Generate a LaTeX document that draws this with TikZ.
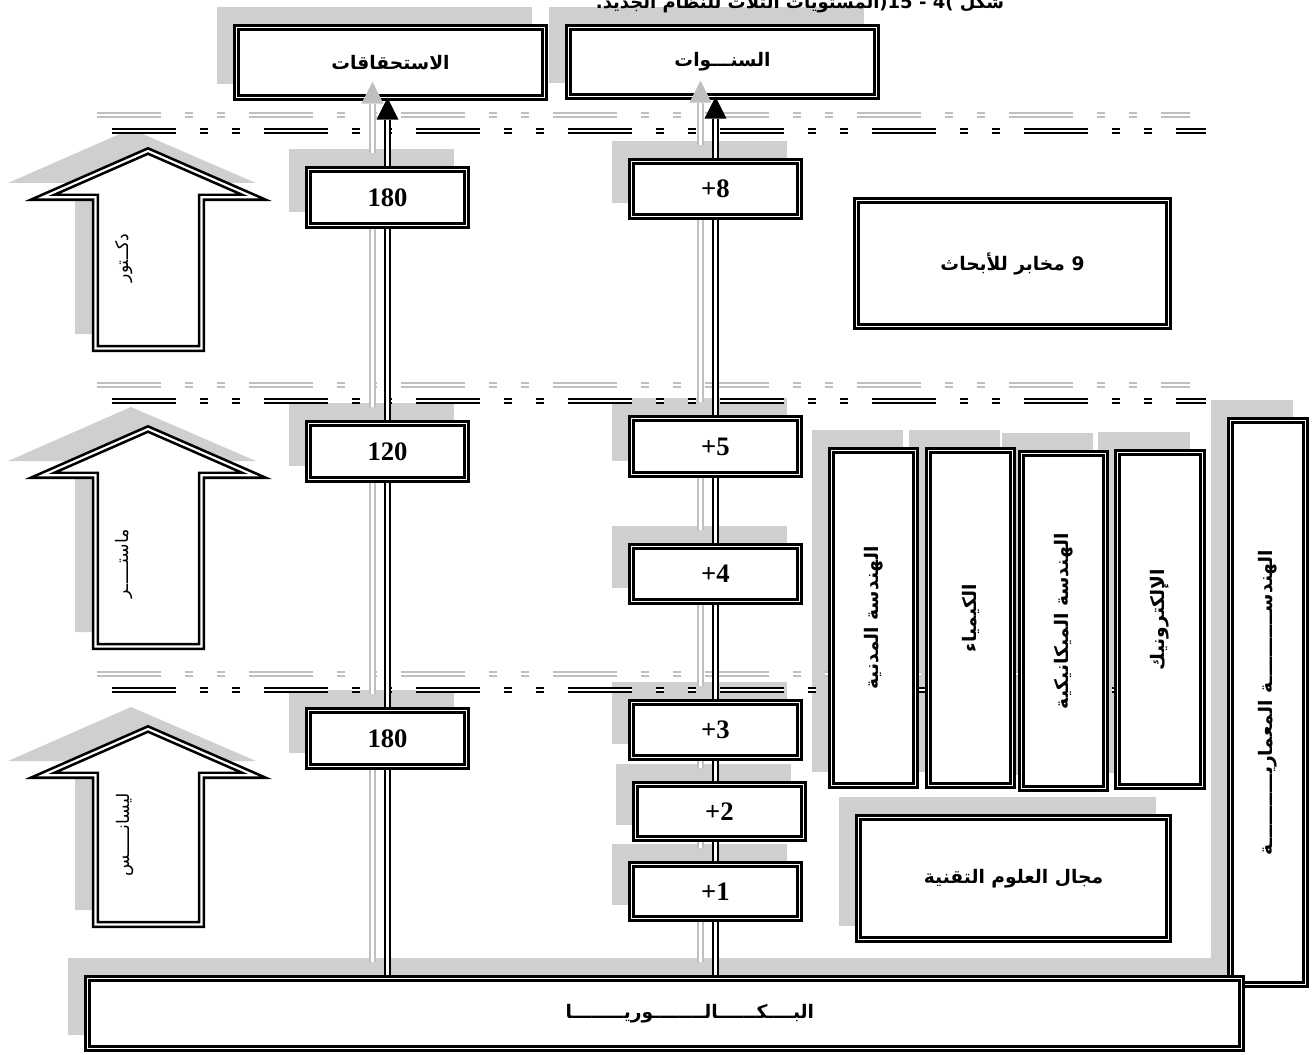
\documentclass[tikz,border=0pt]{standalone}
\usepackage{fontspec}
\setmainfont{Liberation Serif}
\newfontfamily\arb[Script=Arabic]{DejaVu Sans}
\TeXXeTstate=1
\usetikzlibrary{arrows.meta}
\pgfdeclarelayer{shd}
\pgfdeclarelayer{sep}
\pgfdeclarelayer{topb}
\pgfdeclarelayer{conn}
\pgfsetlayers{shd,sep,topb,conn,main}

\tikzset{
  sh/.style={fill=gray!38},
  box/.style={draw=black, line width=1.9pt, double=white, double distance=1.4pt,
    fill=white, inner sep=0pt, outer sep=0pt, align=center},
  sz/.style 2 args={minimum width=#1*0.75pt-5.2pt, minimum height=#2*0.75pt-5.2pt},
  numt/.style={font=\bfseries\fontsize{20pt}{24pt}\selectfont},
  arbt/.style={font=\arb\bfseries\fontsize{14pt}{18pt}\selectfont},
  arrt/.style={font=\arb\fontsize{13pt}{16pt}\selectfont},
  conn/.style={draw=black, line width=1.5pt, double=white, double distance=2pt},
  connsh/.style={draw=gray!50, line width=1.1pt, double=white, double distance=2.4pt},
  sepline/.style={draw=black, line width=1.5pt, double=white, double distance=1.5pt,
    dash pattern=on 48pt off 18pt on 6pt off 18pt on 6pt off 18pt},
  sepsh/.style={draw=gray!50, line width=0.9pt, double=white, double distance=2pt,
    dash pattern=on 48pt off 18pt on 6pt off 18pt on 6pt off 18pt},
  blockarrow/.style={draw=black, line width=2pt, double=white, double distance=1.6pt,
    fill=white, line join=miter},
}

\begin{document}
\begin{tikzpicture}[x=0.75pt,y=-0.75pt]
\useasboundingbox (0,0) rectangle (1312,1055);

% caption, cut by the top edge
\node[font=\arb\bfseries\fontsize{13.5pt}{16pt}\selectfont, anchor=base] (title) at (800,9)
  {\beginR المستويات الثلاث للنظام الجديد.\endR(\kern0pt 15 - 4\kern0pt) \beginR شكل\endR};

% column headers
\begin{pgfonlayer}{topb}
  \node[box,arbt,sz={315}{77}] (A) at (390.5,62.5) {\beginR الاستحقاقات\endR};
  \node[box,arbt,sz={315}{76}] (B) at (722.5,62) {\beginR السنـــوات\endR};
\end{pgfonlayer}

% credits column
\node[box,numt,sz={165}{63}] (L3) at (387.5,197.5) {180};
\node[box,numt,sz={165}{63}] (L2) at (387.5,451.5) {120};
\node[box,numt,sz={165}{63}] (L1) at (387.5,738.5) {180};

% years column
\node[box,numt,sz={175}{62}] (R8) at (715.5,189) {+\kern0pt 8};
\node[box,numt,sz={175}{63}] (R5) at (715.5,446.5) {+\kern0pt 5};
\node[box,numt,sz={175}{62}] (R4) at (715.5,574) {+\kern0pt 4};
\node[box,numt,sz={175}{62}] (R3) at (715.5,730) {+\kern0pt 3};
\node[box,numt,sz={175}{61}] (R2) at (719.5,811.5) {+\kern0pt 2};
\node[box,numt,sz={175}{61}] (R1) at (715.5,891.5) {+\kern0pt 1};

% fields
\node[box,arbt,sz={319}{133}] (lab) at (1012.5,263.5) {\beginR 9 مخابر للأبحاث\endR};
\node[box,arbt,sz={317}{129}] (tech) at (1013.5,878.5) {\beginR مجال العلوم التقنية\endR};
\node[box,arbt,sz={91}{342}] (civ) at (873.5,618) {\rotatebox{90}{\beginR الهندسة المدنية\endR}};
\node[box,arbt,sz={91}{342}] (chem) at (970.5,618) {\rotatebox{90}{\beginR الكيمياء\endR}};
\node[box,arbt,sz={91}{342}] (mech) at (1063.5,621) {\rotatebox{90}{\beginR الهندسة الميكانيكية\endR}};
\node[box,arbt,sz={92}{341}] (elec) at (1160,619.5) {\rotatebox{90}{\beginR الإلكترونيك\endR}};
\node[box,arbt,sz={82}{571}] (arch) at (1268,702.5)
  {\rotatebox{90}{\beginR الهندســـــــــــة المعماريـــــــــــة\endR}};

% baccalaureate
\node[box,arbt,sz={1161}{77}] (bak) at (664.5,1013.5)
  {\hspace*{38pt}\beginR البــــكــــــالــــــــوريــــــــا\endR};

% level arrows
\foreach \t/\b in {147/352,425/650,725/928}{
  \pgfmathsetmacro\hb{\t+54}
  \begin{pgfonlayer}{shd}
    \fill[sh] (131,\t-18) -- (8,\hb-18) -- (75,\hb-18) -- (75,\b-18) -- (188,\b-18)
      -- (188,\hb-18) -- (256,\hb-18) -- cycle;
  \end{pgfonlayer}
  \draw[blockarrow] (148,\t+4) -- (42.5,\hb-3.7) -- (95.5,\hb-3.7) -- (95.5,\b-3.5)
    -- (201.5,\b-3.5) -- (201.5,\hb-3.7) -- (254,\hb-3.7) -- cycle;
}
\node[arrt, rotate=90] (tdoc) at (124,258) {\beginR دكــتور\endR};
\node[arrt, rotate=90] (tmas) at (124,564) {\beginR ماستـــــر\endR};
\node[arrt, rotate=90] (tlic) at (125,835) {\beginR ليسانـــــس\endR};

% connector end points
\coordinate (lb) at (L1 |- bak.north);
\coordinate (la) at (L3 |- A.south);
\coordinate (rb) at (R1 |- bak.north);
\coordinate (r2s) at (R1 |- R2.south);
\coordinate (r2n) at (R1 |- R2.north);
\coordinate (ra) at (R8 |- B.south);
\coordinate (lah) at ([shift={(0,22)}]la);
\coordinate (rah) at ([shift={(0,22)}]ra);

\begin{pgfonlayer}{conn}
  \foreach \p/\q in {lb/L1.south, L1.north/L2.south, L2.north/L3.south, L3.north/lah,
      rb/R1.south, R1.north/r2s, r2n/R3.south, R3.north/R4.south, R4.north/R5.south,
      R5.north/R8.south, R8.north/rah}{
    \draw[connsh] ([shift={(-15,-16)}]\p) -- ([shift={(-15,-16)}]\q);
  }
  \foreach \e in {la,ra}{
    \fill[gray!50] ([shift={(-15,-16)}]\e) -- ([shift={(-26,6)}]\e) -- ([shift={(-4,6)}]\e) -- cycle;
  }
  \foreach \p/\q in {lb/L1.south, L1.north/L2.south, L2.north/L3.south, L3.north/lah,
      rb/R1.south, R1.north/r2s, r2n/R3.south, R3.north/R4.south, R4.north/R5.south,
      R5.north/R8.south, R8.north/rah}{
    \draw[conn] (\p) -- (\q);
  }
  \foreach \e in {la,ra}{
    \fill[black] (\e) -- ([shift={(-11,22)}]\e) -- ([shift={(11,22)}]\e) -- cycle;
  }
\end{pgfonlayer}

% level separators
\begin{pgfonlayer}{sep}
  \foreach \y in {131,401,690}{
    \draw[sepsh] (97,\y-16) -- (1190,\y-16);
    \draw[sepline] (112,\y) -- (1206,\y);
  }
\end{pgfonlayer}

% box shadows
\begin{pgfonlayer}{shd}
  \foreach \n in {A,B,L1,L2,L3,R1,R2,R3,R4,R5,R8,tech,civ,chem,mech,elec,arch,bak}{
    \fill[sh] ([shift={(-19.5,-20.5)}]\n.north west) rectangle ([shift={(-12.5,-13.5)}]\n.south east);
  }
\end{pgfonlayer}
\end{tikzpicture}
\end{document}
